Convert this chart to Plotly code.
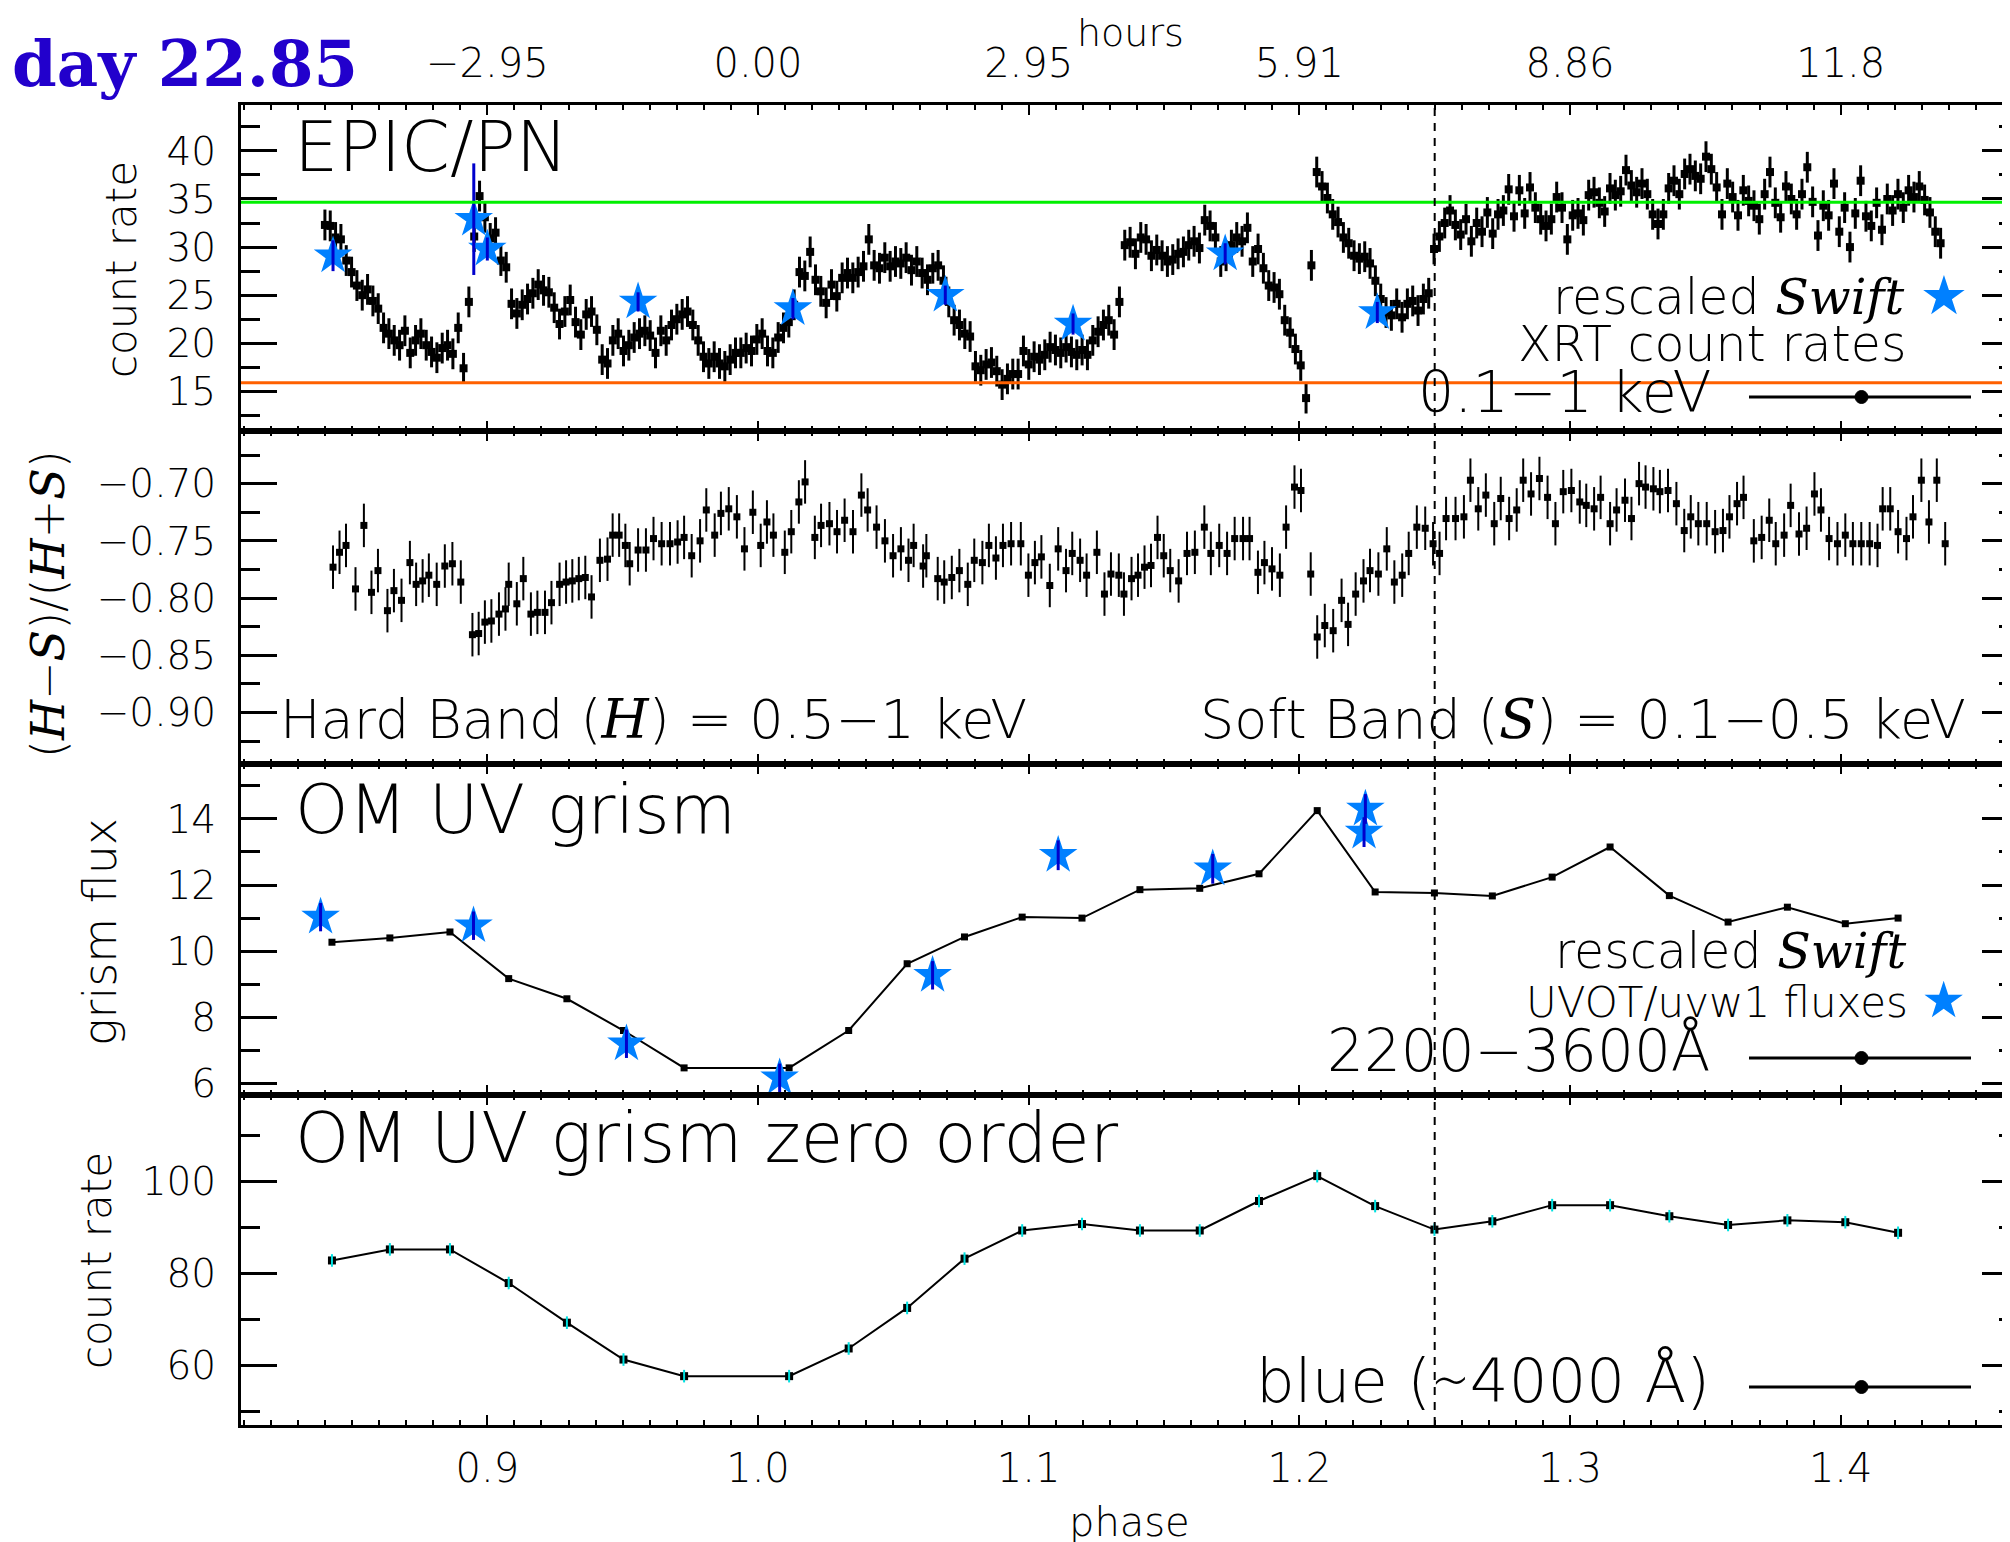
import plotly.graph_objects as go

# ---------------- data ----------------
# EPIC/PN 0.1-1 keV light curve (regular time bins, phase units)
XR_START = 0.8400
XR_BIN = 0.00197
XR_RATE = [
    32.3, 32.2, 31.0, 30.8, 28.6, 27.4, 26.0, 25.0, 25.6, 24.4,
    23.6, 21.6, 21.0, 20.3, 19.8, 21.3, 19.0, 20.3, 21.0, 19.8,
    19.1, 18.5, 19.5, 19.8, 18.9, 21.6, 17.4, 24.3, 31.1, 35.3,
    33.1, 30.9, 31.5, 28.6, 27.9, 24.1, 23.1, 24.0, 24.6, 25.2,
    26.1, 25.5, 25.3, 23.7, 22.0, 23.3, 24.5, 22.2, 20.9, 23.0,
    23.3, 21.4, 18.3, 17.9, 20.3, 21.0, 19.2, 19.8, 20.6, 21.0,
    21.3, 20.8, 19.0, 21.3, 20.3, 21.9, 22.5, 23.0, 23.3, 21.9,
    20.3, 18.6, 17.9, 18.6, 17.9, 17.6, 18.3, 19.0,
    19.0, 19.5, 19.2, 20.4, 21.0, 19.2, 19.0, 20.6, 21.6, 22.2,
    24.0, 27.4, 27.0, 29.5, 26.6, 25.4, 24.2, 26.1, 24.9, 26.8,
    27.3, 26.8, 27.4, 28.0, 30.8, 28.1, 27.8, 28.9, 28.0, 28.5,
    28.3, 28.9, 27.6, 28.5, 27.3, 26.6, 27.8, 28.1, 26.5, 24.3,
    22.4, 21.9, 21.0, 20.7, 17.6, 17.2, 17.8, 18.0, 17.1, 15.7,
    16.3, 16.8, 16.8, 19.2, 17.8, 18.6, 18.3, 18.8, 19.6, 19.3,
    19.0, 19.6, 19.1, 18.8, 19.3, 18.8, 20.3, 21.2, 21.9, 22.4,
    20.9, 24.3, 30.2, 30.5, 29.3, 31.0, 30.8, 29.1, 29.7,
    29.1, 28.5, 28.7, 29.3, 29.5, 30.2, 30.6, 29.9, 32.8, 32.2,
    31.0, 28.5, 29.1, 30.2, 31.0, 30.6, 32.0, 28.5, 29.8, 27.8,
    26.0, 25.8, 25.1, 22.4, 21.1, 19.4, 17.7, 14.3, 28.1, 37.8,
    36.3, 35.1, 33.4, 32.6, 31.0, 30.4, 29.1, 28.8, 29.0, 28.3,
    26.5, 24.6, 23.2, 22.9, 24.1, 22.7, 24.1, 24.4, 23.4, 24.6,
    25.2, 29.8, 31.1, 32.5, 33.8, 32.3, 31.3, 32.9, 30.6, 32.5,
    31.6, 33.6, 31.4, 33.4, 33.8, 36.0, 33.2, 35.9, 33.5, 36.2,
    34.1, 32.9, 32.2, 32.9, 35.2, 34.1, 30.8, 33.3, 33.5,
    32.8, 35.4, 35.7, 34.6, 33.7, 36.1, 35.4, 35.8, 38.0, 36.4,
    35.7, 36.6, 35.5, 33.4, 32.4, 33.4, 36.1, 36.9, 35.5, 37.6,
    38.1, 37.4, 37.1, 39.4, 38.1, 36.2, 33.4, 36.6, 35.2, 33.3,
    35.9, 34.8, 34.3, 32.9, 35.5, 37.8, 34.6, 33.1, 36.3, 35.0,
    33.4, 35.5, 38.3, 34.7, 31.2, 34.3, 33.3, 36.6, 31.6, 34.1,
    30.0, 33.5, 36.9, 33.2, 32.2, 34.6, 31.8, 35.0, 33.8, 35.5,
    34.1, 35.9, 35.2, 36.3, 34.9, 33.6, 31.6, 30.4,
]
XR_ERR = 1.6

# hardness ratio
HR_PHASE = [
    0.8430, 0.8454, 0.8478, 0.8513, 0.8544, 0.8572, 0.8596, 0.8631, 0.8655, 0.8683,
    0.8714, 0.8737, 0.8761, 0.8784, 0.8813, 0.8843, 0.8871, 0.8902, 0.8945, 0.8968,
    0.8991, 0.9015, 0.9043, 0.9067, 0.9079, 0.9109, 0.9133, 0.9161, 0.9185, 0.9213,
    0.9237, 0.9267, 0.9291, 0.9314, 0.9338, 0.9362, 0.9385, 0.9416, 0.9444, 0.9463,
    0.9487, 0.9510, 0.9526, 0.9557, 0.9586, 0.9614, 0.9644, 0.9675, 0.9703, 0.9727,
    0.9755, 0.9786, 0.9809, 0.9840, 0.9863, 0.9892, 0.9922, 0.9950, 0.9981, 1.0010,
    1.0033, 1.0057, 1.0099, 1.0123, 1.0151, 1.0174, 1.0210, 1.0233, 1.0264, 1.0292,
    1.0320, 1.0351, 1.0382, 1.0405, 1.0438, 1.0469, 1.0499, 1.0528, 1.0556, 1.0575,
    1.0610, 1.0622, 1.0664, 1.0688, 1.0716, 1.0744, 1.0775, 1.0799, 1.0829, 1.0853,
    1.0879, 1.0905,
    1.0935, 1.0971, 1.0999, 1.1023, 1.1047, 1.1078, 1.1109, 1.1138, 1.1161, 1.1190,
    1.1214, 1.1252, 1.1280, 1.1304, 1.1333, 1.1352, 1.1380, 1.1404, 1.1428, 1.1452,
    1.1476, 1.1499, 1.1523, 1.1554, 1.1585, 1.1614, 1.1649, 1.1673, 1.1704, 1.1733,
    1.1761, 1.1792, 1.1816, 1.1847, 1.1871, 1.1899, 1.1928, 1.1951, 1.1982, 1.2006,
    1.2042, 1.2066, 1.2094, 1.2125, 1.2156, 1.2180, 1.2208, 1.2237, 1.2261, 1.2292,
    1.2323, 1.2351, 1.2380, 1.2404, 1.2434, 1.2465, 1.2494, 1.2518, 1.2542, 1.2577,
    1.2608, 1.2632, 1.2661, 1.2689, 1.2720, 1.2744, 1.2775, 1.2803, 1.2827, 1.2856,
    1.2887, 1.2917, 1.2946, 1.2975, 1.3005, 1.3036, 1.3060, 1.3089, 1.3113, 1.3148,
    1.3172, 1.3203, 1.3227, 1.3255, 1.3279, 1.3308, 1.3332, 1.3362, 1.3393, 1.3422,
    1.3446, 1.3474, 1.3505, 1.3536, 1.3565, 1.3589, 1.3617, 1.3641, 1.3679, 1.3708,
    1.3736, 1.3760, 1.3791, 1.3815, 1.3846, 1.3874, 1.3903, 1.3927, 1.3957, 1.3988,
    1.4017, 1.4045, 1.4076, 1.4107, 1.4136, 1.4155, 1.4183, 1.4212, 1.4243, 1.4267,
    1.4298, 1.4326, 1.4355, 1.4386,
]
HR_VALUE = [
    -0.773, -0.760, -0.754, -0.792, -0.7365, -0.795, -0.776, -0.811, -0.7935, -0.802,
    -0.769, -0.788, -0.785, -0.780, -0.788, -0.772, -0.770, -0.786, -0.832, -0.831,
    -0.821, -0.820, -0.814, -0.8095, -0.788, -0.805, -0.783, -0.814, -0.8125, -0.8125,
    -0.804, -0.788, -0.786, -0.785, -0.783, -0.782, -0.799, -0.767, -0.766, -0.745,
    -0.745, -0.754, -0.770, -0.758, -0.758, -0.748, -0.7525, -0.7525, -0.751, -0.747,
    -0.763, -0.750, -0.723, -0.745, -0.726, -0.722, -0.729, -0.757, -0.725, -0.754,
    -0.7335, -0.745, -0.760, -0.742, -0.716, -0.6985, -0.747, -0.7365, -0.735, -0.742,
    -0.732, -0.742, -0.710, -0.723, -0.738, -0.750, -0.763, -0.757, -0.767, -0.754,
    -0.772, -0.763, -0.783, -0.786, -0.782, -0.776, -0.788, -0.767, -0.769, -0.754,
    -0.765, -0.754,
    -0.7525, -0.7525, -0.780, -0.769, -0.764, -0.789, -0.757, -0.776, -0.761, -0.767,
    -0.780, -0.760, -0.7965, -0.779, -0.780, -0.7965, -0.783, -0.780, -0.773, -0.7715,
    -0.747, -0.763, -0.776, -0.785, -0.761, -0.760, -0.738, -0.761, -0.754, -0.761,
    -0.748, -0.748, -0.748, -0.7775, -0.769, -0.7745, -0.780, -0.738, -0.703, -0.706,
    -0.779, -0.834, -0.824, -0.8285, -0.802, -0.823, -0.7965, -0.785, -0.776, -0.779,
    -0.757, -0.786, -0.780, -0.761, -0.738, -0.739, -0.7525, -0.761, -0.7305, -0.7305,
    -0.729, -0.697, -0.722, -0.710, -0.735, -0.713, -0.7305, -0.723, -0.697, -0.709,
    -0.6955, -0.712, -0.735, -0.707, -0.706, -0.716, -0.719, -0.722, -0.712, -0.735,
    -0.723, -0.7145, -0.7305, -0.700, -0.703, -0.7045, -0.707, -0.706, -0.7175, -0.741,
    -0.729, -0.735, -0.735, -0.742, -0.741, -0.729, -0.7175, -0.712, -0.750, -0.747,
    -0.732, -0.7525, -0.745, -0.719, -0.744, -0.739, -0.709, -0.723, -0.748, -0.7525,
    -0.745, -0.7525, -0.7525, -0.7525, -0.754, -0.722, -0.722, -0.742, -0.748, -0.729,
    -0.697, -0.7335, -0.697, -0.7525,
]
HR_ERR = 0.019

# OM grism (first order flux and zero order count rate)
OM_PHASE = [0.8426, 0.8640, 0.8862, 0.9079, 0.9294, 0.9503, 0.9727, 1.0115, 1.0335,
            1.0551, 1.0763, 1.0976, 1.1197, 1.1411, 1.1632, 1.1851, 1.2066, 1.2280,
            1.2499, 1.2713, 1.2934, 1.3148, 1.3367, 1.3584, 1.3803, 1.4017, 1.4212]
GRISM_FLUX = [10.27, 10.40, 10.58, 9.17, 8.56, 7.60, 6.47, 6.47, 7.60,
              9.62, 10.43, 11.03, 11.00, 11.86, 11.90, 12.34, 14.25, 11.79,
              11.76, 11.67, 12.24, 13.15, 11.68, 10.88, 11.33, 10.83, 11.00]
ZERO_RATE = [82.8, 85.2, 85.2, 77.9, 69.3, 61.3, 57.7, 57.7, 63.7,
             72.5, 83.2, 89.3, 90.7, 89.3, 89.3, 95.7, 101.1, 94.6,
             89.5, 91.3, 94.8, 94.8, 92.4, 90.5, 91.5, 91.1, 88.8]

# Swift XRT (rescaled) and UVOT/uvw1 (rescaled)
SWX_PHASE = [0.8430, 0.8950, 0.9000, 0.9557, 1.0129, 1.0692, 1.1164, 1.1726, 1.2288]
SWX_RATE = [29.1, 32.9, 29.8, 24.3, 23.6, 25.0, 22.0, 29.3, 23.2]
SWX_ERR = [1.6, 5.8, 1.2, 1.0, 1.1, 1.0, 1.1, 1.1, 1.1]
SWU_PHASE = [0.8384, 0.8949, 0.9514, 1.0080, 1.0645, 1.1109, 1.1680, 1.2239, 1.2244]
SWU_FLUX = [11.03, 10.77, 7.20, 6.17, 9.27, 12.90, 12.49, 13.60, 14.30]
SWU_ERR = [0.43, 0.43, 0.43, 0.43, 0.43, 0.45, 0.45, 0.45, 0.45]

GREEN_LEVEL = 34.65
ORANGE_LEVEL = 15.9
REF_PHASE = 1.25

HOURS_PHASE = [0.9, 1.0, 1.1, 1.2, 1.3, 1.4]
HOURS_TEXT = ["−2.95", "0.00", "2.95", "5.91", "8.86", "11.8"]

# ---------------- layout helpers ----------------
W, H = 2010, 1542
ML, MR, MT, MB = 233, 0, 97, 125
PW = W - ML - MR
PH = H - MT - MB


def px(x):
    return (x - ML) / PW


def py(y):
    return (H - MB - y) / PH


FONT = "DejaVu Sans"
FW = 200
SERIF = "DejaVu Serif"
STAR_BLUE = "#0080FF"
ERR_BLUE = "#0000CC"
XRANGE = [0.8090, 1.4655]

xr_phase = [XR_START + XR_BIN * i for i in range(len(XR_RATE))]

fig = go.Figure()

# panel 1: EPIC/PN
fig.add_trace(go.Scatter(
    x=xr_phase, y=XR_RATE, mode="markers", xaxis="x", yaxis="y",
    marker=dict(symbol="square", size=8, color="black"),
    error_y=dict(type="constant", value=XR_ERR, color="black", thickness=3, width=0),
    showlegend=False, hoverinfo="skip"))
fig.add_trace(go.Scatter(
    x=SWX_PHASE, y=SWX_RATE, mode="markers", xaxis="x", yaxis="y",
    marker=dict(symbol="star", size=29, color=STAR_BLUE, line=dict(width=0)),
    showlegend=False, hoverinfo="skip"))
fig.add_trace(go.Scatter(
    x=SWX_PHASE, y=SWX_RATE, mode="markers", xaxis="x", yaxis="y",
    marker=dict(size=1, color="rgba(0,0,0,0)"),
    error_y=dict(type="data", array=SWX_ERR, color=ERR_BLUE, thickness=3, width=0),
    showlegend=False, hoverinfo="skip"))
# invisible trace carrying the top "hours" axis
fig.add_trace(go.Scatter(
    x=HOURS_PHASE, y=[ORANGE_LEVEL] * len(HOURS_PHASE), mode="markers",
    xaxis="x5", yaxis="y", marker=dict(size=1, color="rgba(0,0,0,0)"),
    showlegend=False, hoverinfo="skip"))

# panel 2: hardness ratio
fig.add_trace(go.Scatter(
    x=HR_PHASE, y=HR_VALUE, mode="markers", xaxis="x2", yaxis="y2",
    marker=dict(symbol="square", size=7, color="black"),
    error_y=dict(type="constant", value=HR_ERR, color="black", thickness=2, width=0),
    showlegend=False, hoverinfo="skip"))

# panel 3: grism flux
fig.add_trace(go.Scatter(
    x=OM_PHASE, y=GRISM_FLUX, mode="lines+markers", xaxis="x3", yaxis="y3",
    line=dict(color="black", width=2),
    marker=dict(symbol="square", size=7, color="black"),
    showlegend=False, hoverinfo="skip"))
fig.add_trace(go.Scatter(
    x=SWU_PHASE, y=SWU_FLUX, mode="markers", xaxis="x3", yaxis="y3",
    marker=dict(symbol="star", size=29, color=STAR_BLUE, line=dict(width=0)),
    showlegend=False, hoverinfo="skip"))
fig.add_trace(go.Scatter(
    x=SWU_PHASE, y=SWU_FLUX, mode="markers", xaxis="x3", yaxis="y3",
    marker=dict(size=1, color="rgba(0,0,0,0)"),
    error_y=dict(type="data", array=SWU_ERR, color=ERR_BLUE, thickness=3, width=0),
    showlegend=False, hoverinfo="skip"))

# panel 4: zero order
fig.add_trace(go.Scatter(
    x=OM_PHASE, y=ZERO_RATE, mode="lines+markers", xaxis="x4", yaxis="y4",
    line=dict(color="black", width=2),
    marker=dict(symbol="square", size=8, color="black"),
    showlegend=False, hoverinfo="skip"))
fig.add_trace(go.Scatter(
    x=OM_PHASE, y=ZERO_RATE, mode="markers", xaxis="x4", yaxis="y4",
    marker=dict(symbol="line-ns", size=9, line=dict(color="#00E0E0", width=2)),
    showlegend=False, hoverinfo="skip"))

# ---------------- axes ----------------
DOMAINS = {1: [0.75303, 1.0], 2: [0.50076, 0.75303], 3: [0.25, 0.50076], 4: [0.0, 0.25]}
Y_SPECS = {
    1: dict(range=[10.88, 44.77], dtick=5, mdt=2.5, fmt="d"),
    2: dict(range=[-0.945, -0.654], dtick=0.05, mdt=0.025, fmt=".2f"),
    3: dict(range=[5.65, 15.66], dtick=2, mdt=1, fmt="d"),
    4: dict(range=[47.1, 118.7], dtick=20, mdt=10, fmt="d"),
}

layout_axes = {}
for k in range(1, 5):
    xname = "xaxis" if k == 1 else f"xaxis{k}"
    yname = "yaxis" if k == 1 else f"yaxis{k}"
    yid = "y" if k == 1 else f"y{k}"
    layout_axes[xname] = dict(
        range=XRANGE, domain=[0, 1], anchor=yid, showgrid=False, zeroline=False,
        showline=True, linecolor="black", linewidth=3, mirror="ticks",
        ticks="inside", ticklen=10, tickwidth=2, tickcolor="black",
        dtick=0.1, tick0=0, tickformat=".1f",
        minor=dict(ticks="inside", ticklen=5, tickwidth=2, tickcolor="black",
                   dtick=0.01, tick0=0, showgrid=False),
        showticklabels=(k == 4), ticklabelstandoff=6,
        tickfont=dict(family=FONT, size=40, color="black", weight=FW),
    )
    s = Y_SPECS[k]
    layout_axes[yname] = dict(
        range=s["range"], domain=DOMAINS[k], anchor="x" if k == 1 else f"x{k}",
        showgrid=False, zeroline=False, showline=True, linecolor="black",
        linewidth=3, mirror="ticks", ticks="inside", ticklen=36, tickwidth=3,
        tickcolor="black", dtick=s["dtick"], tick0=0, tickformat=s["fmt"],
        minor=dict(ticks="inside", ticklen=19, tickwidth=3, tickcolor="black",
                   dtick=s["mdt"], tick0=0, showgrid=False),
        ticklabelstandoff=14,
        tickfont=dict(family=FONT, size=39, color="black", weight=FW),
    )

layout_axes["xaxis5"] = dict(
    range=XRANGE, overlaying="x", anchor="y", side="top", showgrid=False,
    zeroline=False, showline=False, ticks="", tickvals=HOURS_PHASE,
    ticktext=HOURS_TEXT, ticklabelstandoff=19, showticklabels=True,
    tickfont=dict(family=FONT, size=40, color="black", weight=FW),
)

# ---------------- shapes ----------------
shapes = [
    dict(type="line", xref="x domain", yref="y", x0=0, x1=1, y0=GREEN_LEVEL,
         y1=GREEN_LEVEL, line=dict(color="#00F000", width=3)),
    dict(type="line", xref="x domain", yref="y", x0=0, x1=1, y0=ORANGE_LEVEL,
         y1=ORANGE_LEVEL, line=dict(color="#FF6000", width=3)),
]
for k in range(1, 5):
    xid = "x" if k == 1 else f"x{k}"
    yid = "y" if k == 1 else f"y{k}"
    shapes.append(dict(type="line", xref=xid, yref=f"{yid} domain", x0=REF_PHASE,
                       x1=REF_PHASE, y0=0, y1=1,
                       line=dict(color="black", width=2, dash="8px,7px")))
# legend samples (line with dot)
for ly in (389, 1050, 1379):
    shapes.append(dict(type="line", xref="paper", yref="paper", x0=px(1741), x1=px(1963),
                       y0=py(ly), y1=py(ly), line=dict(color="black", width=3)))
    shapes.append(dict(type="circle", xref="paper", yref="paper", x0=px(1847), x1=px(1860),
                       y0=py(ly + 6.5), y1=py(ly - 6.5), fillcolor="black",
                       line=dict(color="black", width=1)))

# ---------------- annotations ----------------
anns = []


def ann(text, x, y, xanchor="left", size=48, color="black", family=FONT,
        weight=FW, angle=0, yanchor="middle", pad=1):
    anns.append(dict(text=text, x=px(x), y=py(y), xref="paper", yref="paper",
                     xanchor=xanchor, yanchor=yanchor, showarrow=False,
                     textangle=angle, borderpad=pad,
                     font=dict(family=family, size=size, color=color, weight=weight)))


def it(s):
    return f"<span style='font-family:{SERIF}'><i>{s}</i></span>"


def star(px_size):
    return (f"<span style='color:{STAR_BLUE};font-family:{FONT};font-weight:400;"
            f"font-size:{px_size}px'>★</span>")


ann("day 22.85", 2, 55, "left", 64, "#2200CC", SERIF, 700)
ann("EPIC/PN", 284, 139, "left", 70)
ann("rescaled " + it("Swift") + " " + star(54), 1962, 287, "right", 49)
ann("XRT count rates", 1900, 337, "right", 49)
ann("0.1−1 keV", 1705, 384, "right", 57)
ann("Hard Band (" + it("H") + ") = 0.5−1 keV", 270, 711, "left", 54)
ann("Soft Band (" + it("S") + ") = 0.1−0.5 keV", 1960, 711, "right", 54)
ann("OM UV grism", 285, 801, "left", 68)
ann("rescaled " + it("Swift"), 1900, 943, "right", 49)
ann("UVOT/uvw1 fluxes " + star(50), 1960, 992, "right", 42)
ann("2200−3600Å", 1705, 1042, "right", 58)
ann("OM UV grism zero order", 285, 1130, "left", 69)
ann("blue (∼4000 Å)", 1704, 1372, "right", 61)
ann("count rate", 113, 262, "center", 42, angle=-90)
ann("(" + it("H") + "−" + it("S") + ")/(" + it("H") + "+" + it("S") + ")", 40, 596,
    "center", 46, angle=-90)
ann("grism flux", 92, 924, "center", 46, angle=-90)
ann("count rate", 88, 1253, "center", 42, angle=-90)
ann("phase", 1121, 1514, "center", 40)
ann("hours", 1122, 25, "center", 38, pad=0)

fig.update_layout(
    width=W, height=H,
    margin=dict(l=ML, r=MR, t=MT, b=MB, autoexpand=False),
    paper_bgcolor="white", plot_bgcolor="white",
    showlegend=False, shapes=shapes, annotations=anns,
    **layout_axes,
)

fig.write_html("out.html")
